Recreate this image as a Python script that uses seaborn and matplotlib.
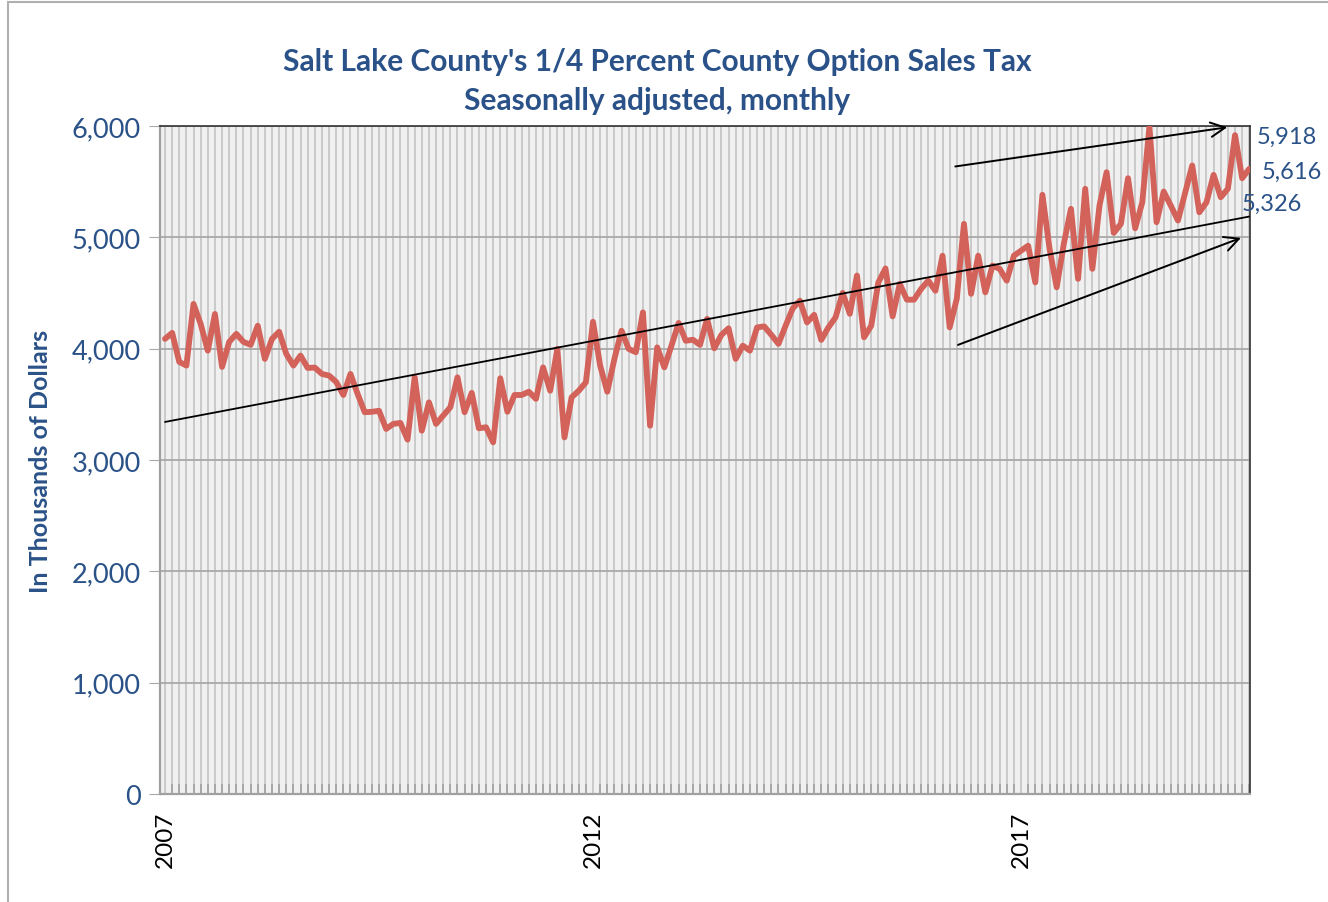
import matplotlib
matplotlib.use("Agg")
import matplotlib.pyplot as plt
from matplotlib.patches import Rectangle
import seaborn as sns
import pandas as pd
import numpy as np

# monthly values, Jan 2007 .. Sep 2019 (thousands of dollars)
sales_tax = [
    4088, 4142, 3881, 3848, 4402, 4222, 3982, 4312, 3836, 4061, 4133, 4061,
    4034, 4206, 3908, 4088, 4152, 3953, 3848, 3938, 3827, 3830, 3773, 3758,
    3701, 3584, 3773, 3594, 3429, 3433, 3442, 3279, 3324, 3333, 3183, 3743,
    3263, 3518, 3324, 3399, 3474, 3743, 3429, 3603, 3285, 3294, 3159, 3734,
    3433, 3584, 3584, 3613, 3549, 3832, 3622, 3998, 3203, 3563, 3622, 3698,
    4242, 3848, 3613, 3908, 4161, 3998, 3968, 4326, 3308, 4012, 3832, 4027,
    4231, 4071, 4080, 4034, 4268, 4003, 4124, 4183, 3908, 4027, 3982, 4191,
    4200, 4124, 4043, 4206, 4362, 4431, 4236, 4304, 4079, 4191, 4281, 4501,
    4313, 4657, 4102, 4206, 4595, 4721, 4290, 4582, 4440, 4440, 4537, 4611,
    4520, 4835, 4191, 4450, 5121, 4492, 4835, 4506, 4746, 4717, 4611, 4835,
    4880, 4925, 4595, 5382, 4897, 4551, 4942, 5256, 4627, 5436, 4717, 5285,
    5585, 5040, 5121, 5531, 5081, 5315, 5995, 5136, 5411, 5285, 5151, 5400,
    5645, 5225, 5315, 5561, 5360, 5436, 5918, 5531, 5616,
]
year_ticks = [0, 60, 120]
year_labels = ["2007", "2012", "2017"]
y_ticks = [0, 1000, 2000, 3000, 4000, 5000, 6000]

# hand-drawn arrows and the value notes at the right edge
upper_arrow = [(110.4, 5633), (149.3, 5992)]
lower_arrow = [(110.8, 4025), (151.2, 5004)]
notes = ["5,918", "5,616", "5,326"]
note_pos = [(153.0, 5903), (153.7, 5597), (151.0, 5301)]

blue = "#2A5288"

sns.set_style("white")
plt.rcParams["font.family"] = ["Lato", "DejaVu Sans"]

df = pd.DataFrame({"month": np.arange(len(sales_tax)), "value": sales_tax})

fig = plt.figure(figsize=(13.28, 9.03), dpi=100)
ax = fig.add_axes([160 / 1328, 1 - 795 / 903, 1090 / 1328, 668 / 903])
ax.set_facecolor("#F0F0F0")

sns.lineplot(data=df, x="month", y="value", color="#D2625A", linewidth=4.2, ax=ax, zorder=4)

# linear trend
k, b = np.polyfit(df["month"], df["value"], 1)
xs = np.array([df["month"].min(), df["month"].max()])
ax.plot(xs, k * xs + b, color="black", lw=1.3, zorder=5)

for (x0, y0), (x1, y1) in [upper_arrow, lower_arrow]:
    ax.annotate("", xy=(x1, y1), xytext=(x0, y0),
                arrowprops=dict(arrowstyle="->", color="black", lw=1.4,
                                mutation_scale=26), annotation_clip=False, zorder=6)

for txt, (x, y) in zip(notes, note_pos):
    ax.text(x, y, txt, color=blue, fontsize=17, va="center", ha="left", clip_on=False)

ax.set_xlim(-0.7, 152.1)
ax.set_ylim(0, 6000)
ax.set_yticks(y_ticks)
ax.set_yticklabels([f"{v:,}" for v in y_ticks], color=blue, fontsize=19.5)
ax.set_xticks(year_ticks)
ax.set_xticklabels(year_labels, rotation=90, fontsize=17.5, color="black")
ax.set_xticks(np.arange(len(sales_tax)), minor=True)

ax.grid(which="minor", axis="x", color="#C6C6C6", lw=1.3)
ax.grid(which="major", axis="x", color="#C6C6C6", lw=1.3)
ax.grid(which="major", axis="y", color="#A8A8A8", lw=1.3)
ax.set_axisbelow(True)

ax.tick_params(axis="y", which="major", length=8, color="#A8A8A8", pad=6, left=True)
ax.tick_params(axis="x", which="major", length=0, pad=12)
ax.tick_params(axis="x", which="minor", direction="in", length=7, color="#A8A8A8", width=1.4, bottom=True)

for side in ["left", "bottom"]:
    ax.spines[side].set_color("#A0A0A0")
    ax.spines[side].set_linewidth(1.6)
for side in ["top", "right"]:
    ax.spines[side].set_color("#333333")
    ax.spines[side].set_linewidth(1.2)

ax.set_xlabel("")
ax.set_ylabel("In Thousands of Dollars", color=blue, fontsize=18, fontweight="bold", labelpad=14)

fig.text(657 / 1328, 1 - 62 / 903, "Salt Lake County's 1/4 Percent County Option Sales Tax",
         ha="center", va="center", color=blue, fontsize=21.5, fontweight="bold")
fig.text(657 / 1328, 1 - 101 / 903, "Seasonally adjusted, monthly",
         ha="center", va="center", color=blue, fontsize=21.5, fontweight="bold")

# outer chart frame
fig.patches.append(Rectangle((8 / 1328, -0.1), 1.2, 1 - 3 / 903 + 0.1, transform=fig.transFigure,
                             fill=False, edgecolor="#B0B0B0", lw=1.5))

fig.savefig("out.png", dpi=100)
